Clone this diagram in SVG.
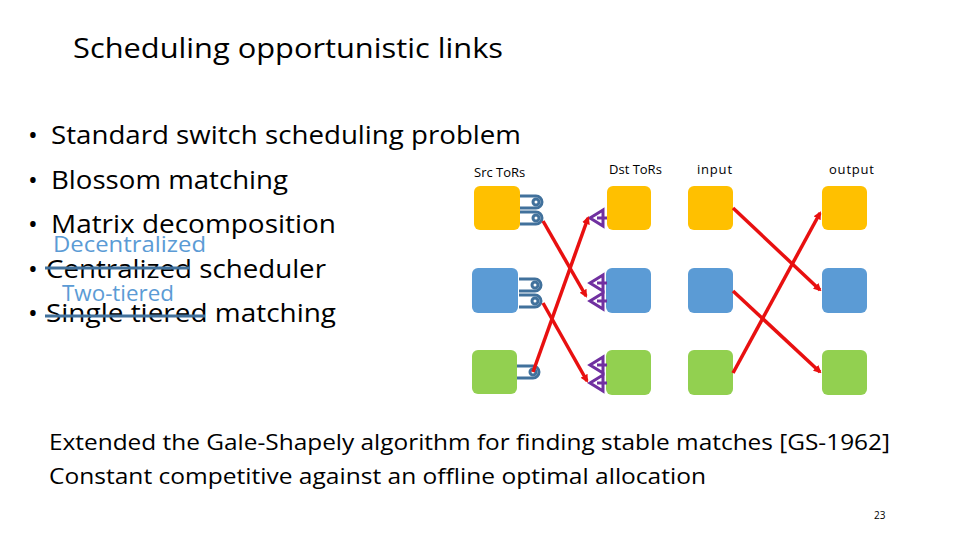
<svg xmlns="http://www.w3.org/2000/svg" width="960" height="540" viewBox="0 0 960 540">
<style>
.t{font-family:"Open Sans","DejaVu Sans",sans-serif;fill:#000}
.b{font-size:26px}
.blue{fill:#5b9bd5}
.y{fill:#ffc000}.bl{fill:#5b9bd5}.g{fill:#92d050}
.red{stroke:#e81010;stroke-width:3.5;fill:none;marker-end:url(#ah)}
.q{fill:none;stroke:#41719c;stroke-width:3}
.p{fill:none;stroke:#7030a0;stroke-width:3}
</style>
<defs>
<marker id="ah" markerWidth="8" markerHeight="8" refX="6" refY="4" orient="auto" markerUnits="userSpaceOnUse" viewBox="0 0 8 8"><path d="M0,0 L8,4 L0,8 Z" fill="#e81010"/></marker>
<g id="pill"><path class="q" d="M520,0 H536 A6,6 0 0 1 536,12 H520"/><circle cx="536" cy="6" r="3" class="q" stroke-width="2.5"/></g>
<g id="tri"><path class="p" d="M607,0 H597 M603,-8 L590,0 L603,8 Z"/></g>
</defs>
<text class="t" x="73" y="58" font-size="28" textLength="430" lengthAdjust="spacingAndGlyphs">Scheduling opportunistic links</text>
<g id="bullets" class="t b">
<text x="28" y="144">•</text><text x="51" y="144" textLength="470" lengthAdjust="spacingAndGlyphs">Standard switch scheduling problem</text>
<text x="28" y="189">•</text><text x="51" y="189" textLength="237" lengthAdjust="spacingAndGlyphs">Blossom matching</text>
<text x="28" y="233">•</text><text x="51" y="233" textLength="285" lengthAdjust="spacingAndGlyphs">Matrix decomposition</text>
<text x="28" y="278">•</text><text x="46" y="278" textLength="280" lengthAdjust="spacingAndGlyphs">Centralized scheduler</text>
<text x="28" y="322">•</text><text x="46" y="322" textLength="290" lengthAdjust="spacingAndGlyphs">Single tiered matching</text>
</g>
<text class="t blue" x="53" y="252" font-size="21" textLength="153" lengthAdjust="spacingAndGlyphs">Decentralized</text>
<text class="t blue" x="62" y="301" font-size="21" textLength="112" lengthAdjust="spacingAndGlyphs">Two-tiered</text>
<line x1="45" y1="268" x2="190" y2="268" stroke="#41719c" stroke-width="3"/>
<line x1="45" y1="316" x2="205" y2="316" stroke="#41719c" stroke-width="3"/>
<text class="t" x="474" y="177" font-size="13">Src ToRs</text>
<text class="t" x="609" y="174" font-size="13">Dst ToRs</text>
<text class="t" x="697" y="174" font-size="13" letter-spacing="0.8">input</text>
<text class="t" x="829" y="174" font-size="13" letter-spacing="0.8">output</text>
<g id="src-y"><rect class="y" x="474" y="186" width="46" height="44" rx="6"/><use href="#pill" y="196"/><use href="#pill" y="212"/></g>
<g id="src-b"><rect class="bl" x="472" y="268" width="46" height="45" rx="6"/><use href="#pill" x="-1" y="279"/><use href="#pill" x="-1" y="295"/></g>
<g id="src-g"><rect class="g" x="472" y="350" width="45" height="44" rx="6"/><use href="#pill" x="-3" y="366"/></g>
<g id="dst-y"><rect class="y" x="607" y="186" width="44" height="44" rx="6"/><use href="#tri" y="218"/></g>
<g id="dst-b"><rect class="bl" x="606" y="268" width="45" height="45" rx="6"/><use href="#tri" y="283"/><use href="#tri" y="301"/></g>
<g id="dst-g"><rect class="g" x="606" y="350" width="45" height="45" rx="6"/><use href="#tri" y="365"/><use href="#tri" y="383"/></g>
<g id="in-y"><rect class="y" x="688" y="186" width="45" height="44" rx="6"/></g>
<g id="in-b"><rect class="bl" x="688" y="268" width="45" height="45" rx="6"/></g>
<g id="in-g"><rect class="g" x="688" y="350" width="45" height="45" rx="6"/></g>
<g id="out-y"><rect class="y" x="822" y="186" width="45" height="44" rx="6"/></g>
<g id="out-b"><rect class="bl" x="822" y="268" width="45" height="45" rx="6"/></g>
<g id="out-g"><rect class="g" x="822" y="350" width="45" height="45" rx="6"/></g>
<g id="connectors">
<line class="red" x1="543" y1="221" x2="586" y2="296"/>
<line class="red" x1="543" y1="303" x2="587" y2="381"/>
<line class="red" x1="533" y1="372" x2="588" y2="218"/>
<line class="red" x1="733" y1="208" x2="820" y2="290"/>
<line class="red" x1="733" y1="291" x2="820" y2="372"/>
<line class="red" x1="733" y1="373" x2="820" y2="213"/>
</g>
<text class="t" x="49" y="450" font-size="22" textLength="841" lengthAdjust="spacingAndGlyphs">Extended the Gale-Shapely algorithm for finding stable matches [GS-1962]</text>
<text class="t" x="49" y="484" font-size="22" textLength="657" lengthAdjust="spacingAndGlyphs">Constant competitive against an offline optimal allocation</text>
<text class="t" x="874" y="519" font-size="10" fill="#777">23</text>
</svg>
